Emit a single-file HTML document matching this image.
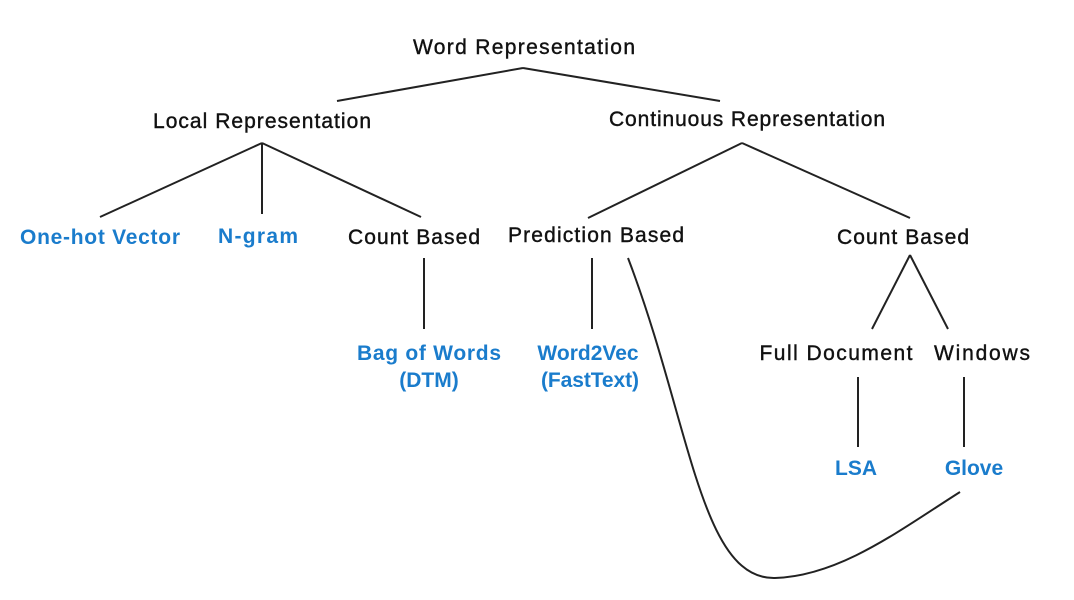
<!DOCTYPE html>
<html><head><meta charset="utf-8"><style>
html,body{margin:0;padding:0;background:#fff;width:1074px;height:600px;overflow:hidden}
svg{display:block}
text{font-family:"Liberation Sans",sans-serif;font-size:21px;text-anchor:middle}
.k{fill:#111;stroke:#111;stroke-width:0.4}
.b{fill:#1a7ccc;font-weight:bold;font-size:21px}
line,path{stroke:#222;stroke-width:2;fill:none}
</style></head><body>
<svg width="1074" height="600" viewBox="0 0 1074 600">
<line x1="523" y1="68" x2="337" y2="101"/>
<line x1="523" y1="68" x2="720" y2="101"/>
<line x1="262" y1="143" x2="100" y2="217"/>
<line x1="262" y1="143" x2="262" y2="214"/>
<line x1="262" y1="143" x2="421" y2="217"/>
<line x1="742" y1="143" x2="588" y2="218"/>
<line x1="742" y1="143" x2="910" y2="218"/>
<line x1="424" y1="258" x2="424" y2="329"/>
<line x1="592" y1="258" x2="592" y2="329"/>
<line x1="910" y1="255" x2="872" y2="329"/>
<line x1="910" y1="255" x2="948" y2="329"/>
<line x1="858" y1="377" x2="858" y2="447"/>
<line x1="964" y1="377" x2="964" y2="447"/>
<path d="M628,258 C690,420 700,580 775,578 C840,576 900,530 960,492"/>
<text class="k" x="524" y="54" textLength="222">Word Representation</text>
<text class="k" x="262" y="128" textLength="218">Local Representation</text>
<text class="k" x="747" y="126" textLength="276">Continuous Representation</text>
<text class="b" x="100" y="244" textLength="160">One-hot Vector</text>
<text class="b" x="258" y="243" textLength="80">N-gram</text>
<text class="k" x="414" y="244" textLength="132">Count Based</text>
<text class="k" x="596" y="242" textLength="176">Prediction Based</text>
<text class="k" x="903" y="244" textLength="132">Count Based</text>
<text class="b" x="429" y="360" textLength="144">Bag of Words</text>
<text class="b" x="429" y="387">(DTM)</text>
<text class="b" x="588" y="360">Word2Vec</text>
<text class="b" x="590" y="387" textLength="98">(FastText)</text>
<text class="k" x="836" y="360" textLength="153">Full Document</text>
<text class="k" x="982" y="360" textLength="96">Windows</text>
<text class="b" x="856" y="475">LSA</text>
<text class="b" x="974" y="475">Glove</text>
</svg>
</body></html>
